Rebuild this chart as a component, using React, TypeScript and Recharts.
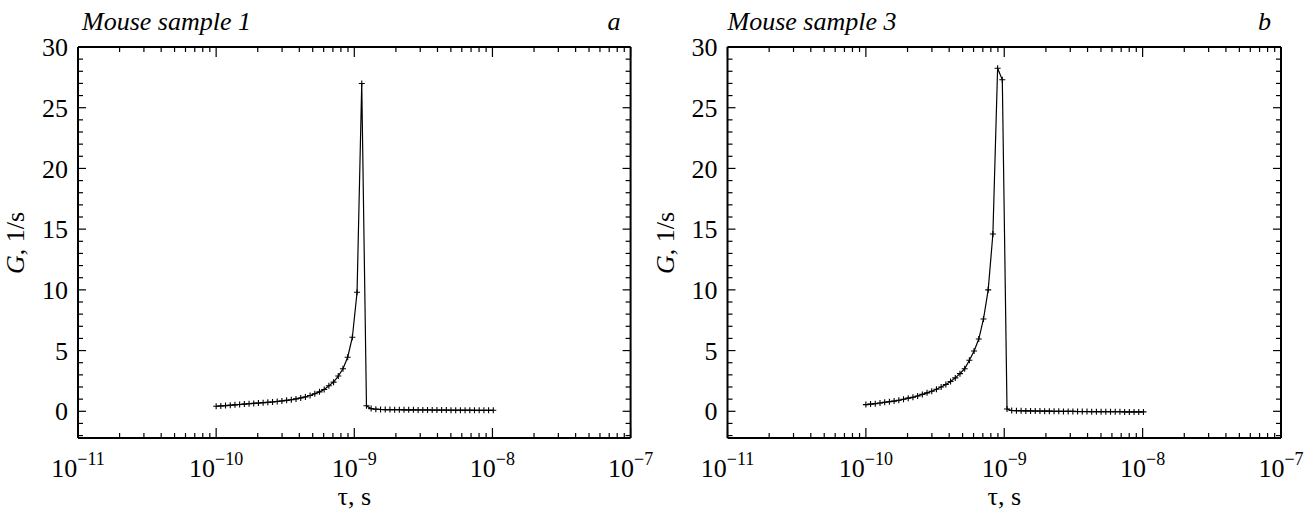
import React from 'react';
import { LineChart, Line, XAxis, YAxis } from 'recharts';

// relaxation time grid, s (shared by both samples)
const TAU = [
  1.000e-10, 1.081e-10, 1.169e-10, 1.265e-10, 1.368e-10, 1.479e-10, 1.600e-10, 1.730e-10,
  1.871e-10, 2.023e-10, 2.188e-10, 2.366e-10, 2.559e-10, 2.767e-10, 2.992e-10, 3.236e-10,
  3.499e-10, 3.784e-10, 4.093e-10, 4.426e-10, 4.786e-10, 5.176e-10, 5.598e-10, 6.053e-10,
  6.546e-10, 7.079e-10, 7.656e-10, 8.279e-10, 8.954e-10, 9.683e-10, 1.047e-9, 1.132e-9,
  1.225e-9, 1.324e-9, 1.432e-9, 1.549e-9, 1.675e-9, 1.811e-9, 1.959e-9, 2.118e-9,
  2.291e-9, 2.477e-9, 2.679e-9, 2.897e-9, 3.133e-9, 3.388e-9, 3.664e-9, 3.963e-9,
  4.285e-9, 4.634e-9, 5.012e-9, 5.420e-9, 5.861e-9, 6.339e-9, 6.855e-9, 7.413e-9,
  8.017e-9, 8.670e-9, 9.376e-9, 1.014e-8,
];

// G, 1/s — mouse sample 1
const G_SAMPLE_1 = [
  0.41, 0.44, 0.47, 0.50, 0.53, 0.56, 0.59, 0.62, 0.65, 0.68, 0.71, 0.74, 0.77, 0.81, 0.85, 0.90,
  0.95, 1.02, 1.10, 1.18, 1.30, 1.45, 1.60, 1.80, 2.10, 2.40, 2.90, 3.50, 4.45, 6.10, 9.80, 27.0,
  0.45, 0.22, 0.17, 0.15, 0.14, 0.14, 0.13, 0.13, 0.12, 0.12, 0.12, 0.11, 0.11, 0.11, 0.10, 0.10,
  0.10, 0.10, 0.09, 0.09, 0.09, 0.09, 0.09, 0.08, 0.08, 0.08, 0.08, 0.08,
];

// G, 1/s — mouse sample 3
const G_SAMPLE_3 = [
  0.55, 0.59, 0.63, 0.68, 0.74, 0.79, 0.84, 0.91, 0.99, 1.08, 1.15, 1.26, 1.39, 1.52, 1.65, 1.82,
  2.00, 2.20, 2.45, 2.75, 3.10, 3.50, 4.20, 4.97, 5.95, 7.60, 10.0, 14.6, 28.25, 27.3, 0.19, 0.06,
  0.05, 0.04, 0.03, 0.03, 0.02, 0.02, 0.01, 0.01, 0.00, 0.00, -0.01, -0.01, -0.01, -0.02, -0.02, -0.02,
  -0.03, -0.03, -0.03, -0.04, -0.04, -0.04, -0.04, -0.05, -0.05, -0.05, -0.05, -0.05,
];

const DECADES = [-11, -10, -9, -8, -7];
const MINOR_MULT = [2, 3, 4, 5, 6, 7, 8, 9];
const Y_TICKS = [-2, -1, 0, 1, 2, 3, 4, 5, 6, 7, 8, 9, 10, 11, 12, 13, 14, 15, 16, 17, 18, 19, 20,
  21, 22, 23, 24, 25, 26, 27, 28, 29, 30];

const X_TICKS: number[] = [];
DECADES.forEach((d, i) => {
  X_TICKS.push(Math.pow(10, d));
  if (i < DECADES.length - 1) MINOR_MULT.forEach(m => X_TICKS.push(m * Math.pow(10, d)));
});

const FONT = '"Liberation Serif", "Times New Roman", serif';
const FS = 26;
const W = 658;
const H = 511;

const isMajorX = (v: number) => Math.abs(Math.log10(v) - Math.round(Math.log10(v))) < 1e-6;

const BottomTick = ({ x, y, payload }: any) => {
  const major = isMajorX(payload.value);
  const exp = Math.round(Math.log10(payload.value));
  return (
    <g>
      <line x1={x} x2={x} y1={y} y2={y - (major ? 10 : 5)} stroke="#000" strokeWidth={1.2} />
      {major && (
        <text x={x} y={y + 39} textAnchor="middle" fontFamily={FONT} fontSize={FS} fill="#000">
          10<tspan dy={-12} fontSize={18}>{'\u2212' + Math.abs(exp)}</tspan>
        </text>
      )}
    </g>
  );
};

const TopTick = ({ x, y, payload }: any) => {
  const major = isMajorX(payload.value);
  return <line x1={x} x2={x} y1={y} y2={y + (major ? 10 : 5)} stroke="#000" strokeWidth={1.2} />;
};

const LeftTick = ({ x, y, payload }: any) => {
  const major = payload.value % 5 === 0;
  return (
    <g>
      <line x1={x} x2={x + (major ? 8 : 5)} y1={y} y2={y} stroke="#000" strokeWidth={1.2} />
      {major && (
        <text x={x - 10} y={y} dy="0.35em" textAnchor="end" fontFamily={FONT} fontSize={FS} fill="#000">
          {payload.value}
        </text>
      )}
    </g>
  );
};

const RightTick = ({ x, y, payload }: any) => {
  const major = payload.value % 5 === 0;
  return <line x1={x} x2={x - (major ? 8 : 5)} y1={y} y2={y} stroke="#000" strokeWidth={1.2} />;
};

const Cross = (props: any) => {
  const { cx, cy, index } = props;
  if (cx == null || cy == null) return <g key={index} />;
  return (
    <path key={index} d={`M${cx - 3},${cy}h6M${cx},${cy - 3}v6`} stroke="#000" strokeWidth={1.1} fill="none" />
  );
};

interface PanelProps {
  values: number[];
  title: string;
  letter: string;
  left: number;
  plotLeft: number;
  plotRight: number;
  titleShift: number;
}

function Panel({ values, title, letter, left, plotLeft, plotRight, titleShift }: PanelProps) {
  const data = TAU.map((tau, i) => ({ tau, g: values[i] }));
  const plotTop = 47;
  const plotBottom = 438;
  const axis = { stroke: '#000', strokeWidth: 2 };
  return (
    <div style={{ position: 'absolute', left, top: 0, width: W, height: H }}>
      <LineChart
        width={W}
        height={H}
        data={data}
        margin={{ top: plotTop - 1, bottom: H - plotBottom - 1, left: plotLeft - 1, right: W - plotRight - 1 }}
      >
        <XAxis
          dataKey="tau"
          type="number"
          scale="log"
          domain={[1e-11, 1e-7]}
          allowDataOverflow
          ticks={X_TICKS}
          interval={0}
          height={1}
          tickSize={0}
          tickMargin={0}
          axisLine={axis}
          tickLine={false}
          tick={(p: any) => <BottomTick {...p} />}
        />
        <XAxis
          xAxisId="top"
          orientation="top"
          dataKey="tau"
          type="number"
          scale="log"
          domain={[1e-11, 1e-7]}
          allowDataOverflow
          ticks={X_TICKS}
          interval={0}
          height={1}
          tickSize={0}
          tickMargin={0}
          axisLine={axis}
          tickLine={false}
          tick={(p: any) => <TopTick {...p} />}
        />
        <YAxis
          type="number"
          domain={[-2.2, 30]}
          allowDataOverflow
          ticks={Y_TICKS}
          interval={0}
          width={1}
          tickSize={0}
          tickMargin={0}
          axisLine={axis}
          tickLine={false}
          tick={(p: any) => <LeftTick {...p} />}
        />
        <YAxis
          yAxisId="right"
          orientation="right"
          type="number"
          domain={[-2.2, 30]}
          allowDataOverflow
          ticks={Y_TICKS}
          interval={0}
          width={1}
          tickSize={0}
          tickMargin={0}
          axisLine={axis}
          tickLine={false}
          tick={(p: any) => <RightTick {...p} />}
        />
        <Line
          type="linear"
          dataKey="g"
          stroke="#000"
          strokeWidth={1.2}
          dot={Cross}
          activeDot={false}
          isAnimationActive={false}
        />
      </LineChart>
      <div style={{ position: 'absolute', left: plotLeft + titleShift, top: 7, fontFamily: FONT, fontStyle: 'italic', fontSize: FS, lineHeight: '30px', whiteSpace: 'nowrap' }}>
        {title}
      </div>
      <div style={{ position: 'absolute', left: plotRight - 40, width: 30, textAlign: 'right', top: 7, fontFamily: FONT, fontStyle: 'italic', fontSize: FS, lineHeight: '30px' }}>
        {letter}
      </div>
      <div style={{ position: 'absolute', left: (plotLeft + plotRight) / 2 - 40, width: 80, textAlign: 'center', top: 486, fontFamily: FONT, fontSize: FS, lineHeight: '22px' }}>
        τ, s
      </div>
      <div
        style={{
          position: 'absolute',
          left: plotLeft - 62 - 70,
          top: (plotTop + plotBottom) / 2 - 13,
          width: 140,
          textAlign: 'center',
          transform: 'rotate(-90deg)',
          fontFamily: FONT,
          fontSize: FS,
          lineHeight: '26px',
          whiteSpace: 'nowrap',
        }}
      >
        <i>G</i>, 1/s
      </div>
    </div>
  );
}

export default function App() {
  return (
    <div style={{ position: 'absolute', left: 0, top: 0, width: 1316, height: H, background: '#fff' }}>
      <Panel values={G_SAMPLE_1} title="Mouse sample 1" letter="a" left={0} plotLeft={78} plotRight={630.6} titleShift={4} />
      <Panel values={G_SAMPLE_3} title="Mouse sample 3" letter="b" left={658} plotLeft={69.5} plotRight={623} titleShift={0} />
    </div>
  );
}
